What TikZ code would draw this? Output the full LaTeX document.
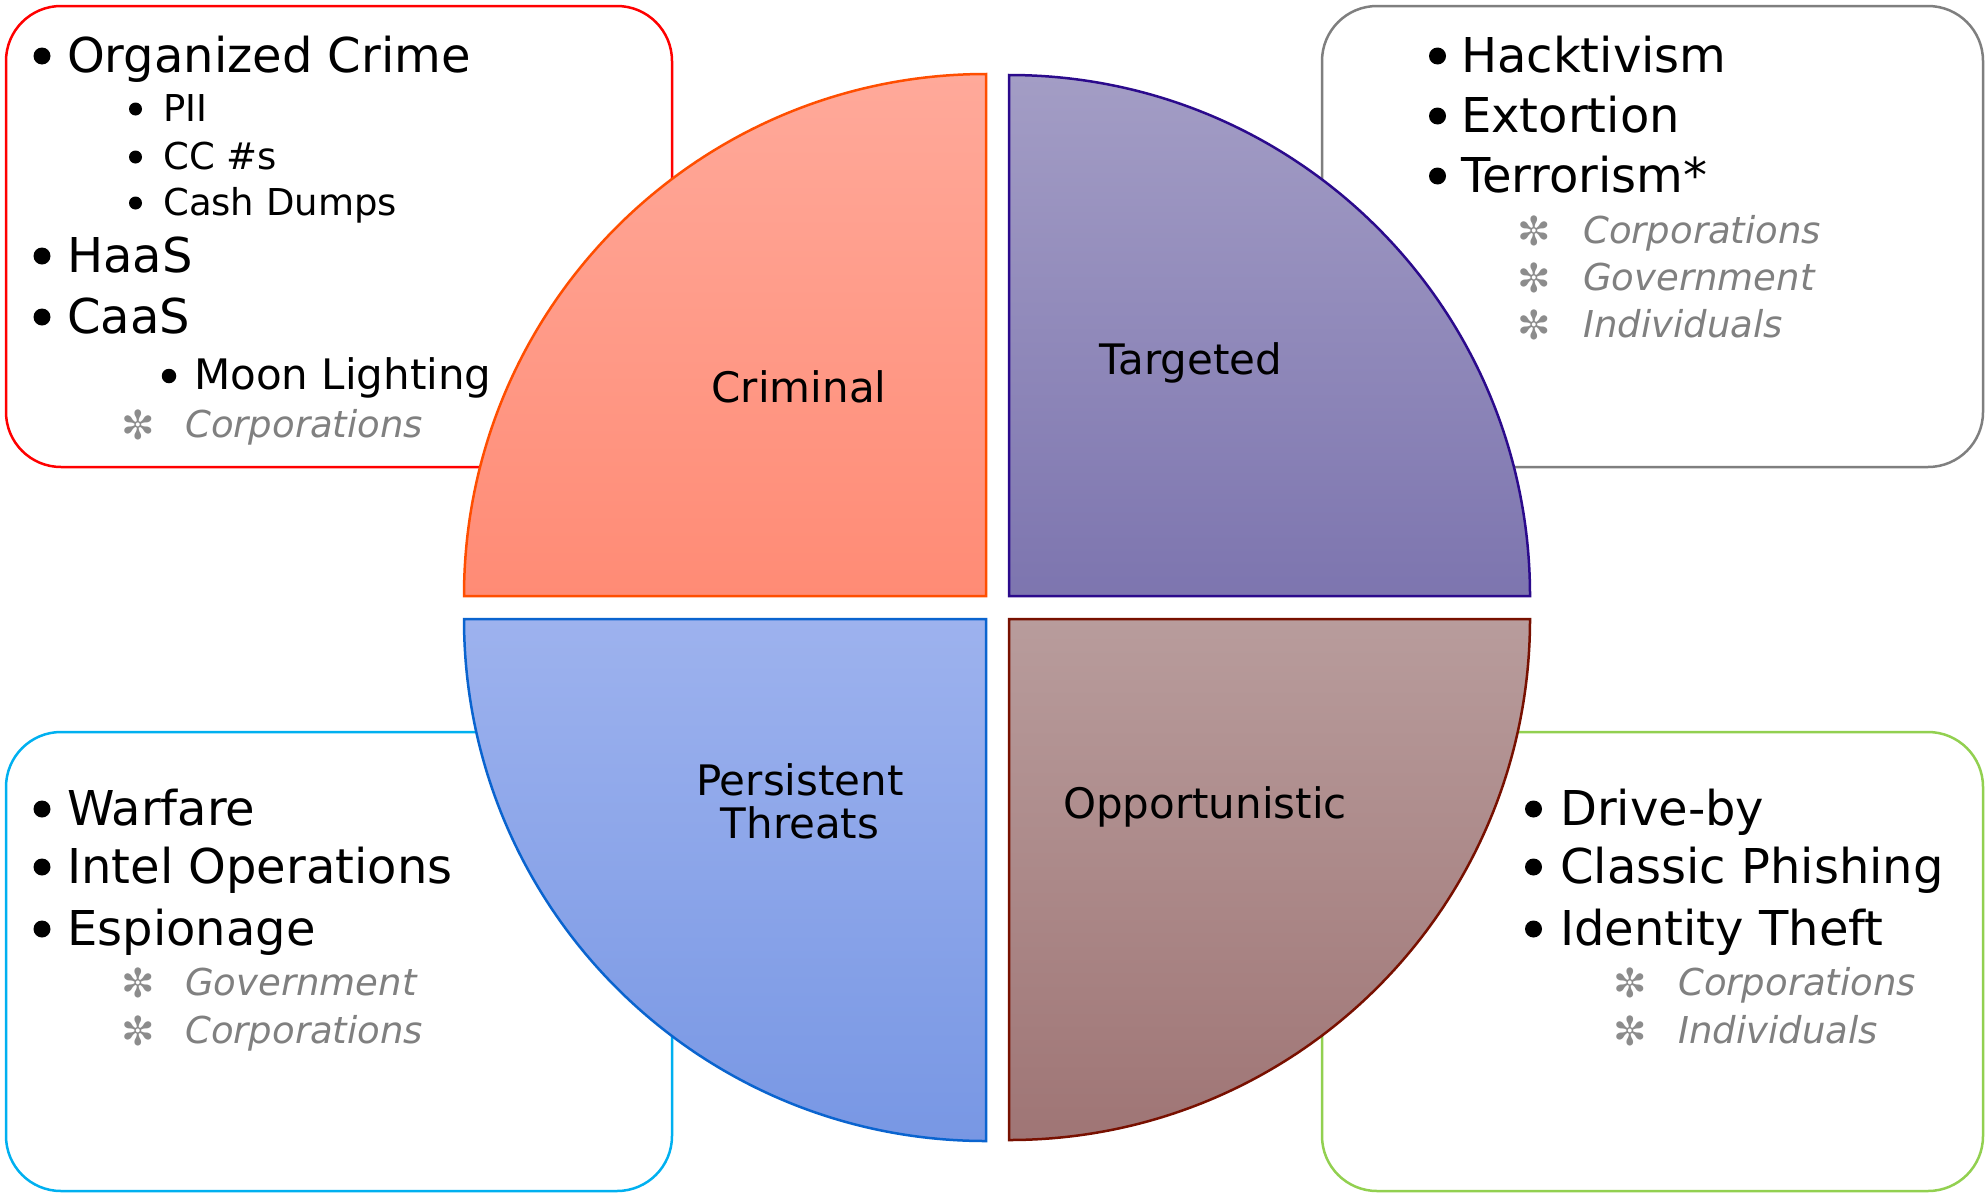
\documentclass[tikz,border=0pt]{standalone}
\usepackage{fontspec}
\setmainfont{DejaVu Sans}
\definecolor{boxred}{HTML}{FF0000}
\definecolor{boxgray}{HTML}{7F7F7F}
\definecolor{boxblue}{HTML}{00B0F0}
\definecolor{boxgreen}{HTML}{92D050}
\definecolor{qatop}{HTML}{FFA99A}
\definecolor{qabot}{HTML}{FF8B75}
\definecolor{qaline}{HTML}{FF4E00}
\definecolor{qbtop}{HTML}{A39DC5}
\definecolor{qbbot}{HTML}{7D75AF}
\definecolor{qbline}{HTML}{2B0A8C}
\definecolor{qctop}{HTML}{9DB2EE}
\definecolor{qcbot}{HTML}{7897E4}
\definecolor{qcline}{HTML}{0A64CF}
\definecolor{qdtop}{HTML}{B89C9C}
\definecolor{qdbot}{HTML}{9F7575}
\definecolor{qdline}{HTML}{781000}
\definecolor{txtgray}{HTML}{808080}
\definecolor{stargray}{HTML}{8C8C8C}
\tikzset{
  infobox/.style={line width=2.5pt, rounded corners=55pt, fill=white},
  quad/.style={line width=2.5pt},
  bigitem/.style={anchor=base west, inner sep=0pt, font=\fontsize{48}{58}\selectfont},
  miditem/.style={anchor=base west, inner sep=0pt, font=\fontsize{42}{50}\selectfont},
  subitem/.style={anchor=base west, inner sep=0pt, font=\fontsize{37}{44}\selectfont},
  grayitem/.style={anchor=base west, inner sep=0pt, text=txtgray, font=\fontsize{37}{44}\selectfont\itshape},
  bigdot/.style={circle, fill=black, inner sep=0pt, minimum size=17pt, yshift=16pt},
  middot/.style={circle, fill=black, inner sep=0pt, minimum size=14.5pt, yshift=13pt},
  subdot/.style={circle, fill=black, inner sep=0pt, minimum size=13pt, yshift=12pt},
  starmark/.style={anchor=center, inner sep=0pt, text=stargray, yshift=12pt, font=\fontsize{40}{44}\selectfont},
  qlabel/.style={anchor=base, inner sep=0pt, font=\fontsize{42}{44}\selectfont, align=center},
}
\begin{document}
\begin{tikzpicture}[x=1pt,y=-1pt]
\useasboundingbox (0,0) rectangle (1985,1194);
\fill[white] (0,0) rectangle (1985,1194);
% boxes
\draw[infobox, draw=boxred] (6,6) rectangle (672,467);
\draw[infobox, draw=boxgray] (1322,6) rectangle (1983,467);
\draw[infobox, draw=boxblue] (6,732) rectangle (672,1191);
\draw[infobox, draw=boxgreen] (1322,732) rectangle (1983,1191);
% quadrants
\draw[quad, draw=qaline, top color=qatop, bottom color=qabot]
  (986,596) -- (464,596) arc[start angle=180, end angle=270, radius=522] -- cycle;
\draw[quad, draw=qbline, top color=qbtop, bottom color=qbbot]
  (1009,596) -- (1009,75) arc[start angle=270, end angle=360, radius=521] -- cycle;
\draw[quad, draw=qcline, top color=qctop, bottom color=qcbot]
  (986,619) -- (986,1141) arc[start angle=90, end angle=180, radius=522] -- cycle;
\draw[quad, draw=qdline, top color=qdtop, bottom color=qdbot]
  (1009,619) -- (1530,619) arc[start angle=0, end angle=90, radius=521] -- cycle;
% quadrant labels
\node[qlabel] (crim) at (799,402) {Criminal};
\node[qlabel] (targ) at (1191,374) {Targeted};
\node[qlabel] (pers1) at (800,795) {Persistent};
\node[qlabel] (pers2) at (800,838) {Threats};
\node[qlabel] (oppo) at (1205,818) {Opportunistic};
% top-left box text
\node[bigdot] (d1) at (42,72) {};
\node[bigitem] (t1) at (67,72) {Organized Crime};
\node[subdot] (d2) at (135.5,121) {};
\node[subitem] (t2) at (163,121) {PII};
\node[subdot] (d3) at (135.5,169) {};
\node[subitem] (t3) at (163,169) {CC \#s};
\node[subdot] (d4) at (135.5,215) {};
\node[subitem] (t4) at (163,215) {Cash Dumps};
\node[bigdot] (d5) at (42,272) {};
\node[bigitem] (t5) at (67,272) {HaaS};
\node[bigdot] (d6) at (42,333) {};
\node[bigitem] (t6) at (67,333) {CaaS};
\node[middot] (d7) at (169,389) {};
\node[miditem] (t7) at (194,389) {Moon Lighting};
\node[starmark] (s8) at (138.5,437) {✼};
\node[grayitem] (t8) at (185,437) {Corporations};
% top-right box text
\node[bigdot] (e1) at (1437.5,72) {};
\node[bigitem] (u1) at (1461,72) {Hacktivism};
\node[bigdot] (e2) at (1437.5,132) {};
\node[bigitem] (u2) at (1461,132) {Extortion};
\node[bigdot] (e3) at (1437.5,192) {};
\node[bigitem] (u3) at (1461,192) {Terrorism*};
\node[starmark] (e4) at (1534,243) {✼};
\node[grayitem] (u4) at (1583,243) {Corporations};
\node[starmark] (e5) at (1534,290) {✼};
\node[grayitem] (u5) at (1583,290) {Government};
\node[starmark] (e6) at (1534,337) {✼};
\node[grayitem] (u6) at (1583,337) {Individuals};
% bottom-left box text
\node[bigdot] (f1) at (42,825) {};
\node[bigitem] (v1) at (67,825) {Warfare};
\node[bigdot] (f2) at (42,883) {};
\node[bigitem] (v2) at (67,883) {Intel Operations};
\node[bigdot] (f3) at (42,945) {};
\node[bigitem] (v3) at (67,945) {Espionage};
\node[starmark] (f4) at (138.5,995) {✼};
\node[grayitem] (v4) at (185,995) {Government};
\node[starmark] (f5) at (138.5,1043) {✼};
\node[grayitem] (v5) at (185,1043) {Corporations};
% bottom-right box text
\node[bigdot] (g1) at (1533.5,825) {};
\node[bigitem] (w1) at (1560,825) {Drive-by};
\node[bigdot] (g2) at (1533.5,883) {};
\node[bigitem] (w2) at (1560,883) {Classic Phishing};
\node[bigdot] (g3) at (1533.5,945) {};
\node[bigitem] (w3) at (1560,945) {Identity Theft};
\node[starmark] (g4) at (1630.5,995) {✼};
\node[grayitem] (w4) at (1678,995) {Corporations};
\node[starmark] (g5) at (1630.5,1043) {✼};
\node[grayitem] (w5) at (1678,1043) {Individuals};
\end{tikzpicture}
\end{document}
